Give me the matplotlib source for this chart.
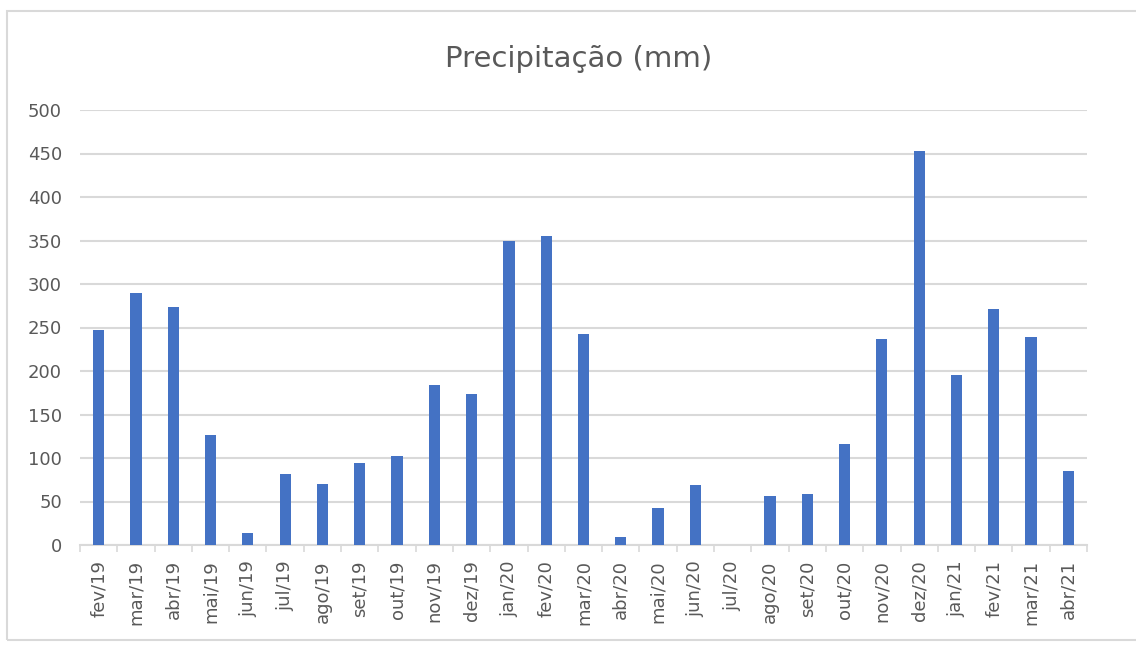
import matplotlib
matplotlib.use("Agg")
import matplotlib.pyplot as plt
from matplotlib.patches import Rectangle
import numpy as np

months = ["fev/19", "mar/19", "abr/19", "mai/19", "jun/19", "jul/19", "ago/19",
          "set/19", "out/19", "nov/19", "dez/19", "jan/20", "fev/20", "mar/20",
          "abr/20", "mai/20", "jun/20", "jul/20", "ago/20", "set/20", "out/20",
          "nov/20", "dez/20", "jan/21", "fev/21", "mar/21", "abr/21"]
precip = [247, 290, 274, 126, 14, 82, 70, 94, 102, 184, 173, 349, 355, 243,
          9, 43, 69, 0, 56, 59, 116, 237, 453, 195, 271, 239, 85]
yticks = [0, 50, 100, 150, 200, 250, 300, 350, 400, 450, 500]
title = "Precipitação (mm)"

plt.rcParams['font.family'] = ['DejaVu Sans']
W, H = 1136, 646
fig = plt.figure(figsize=(W / 100, H / 100), dpi=100)
fig.patch.set_facecolor("white")

# outer chart border
fig.patches.append(Rectangle((7 / W, 1 - 640 / H), (W + 10 - 7) / W, (640 - 11) / H,
                             transform=fig.transFigure, fill=False,
                             edgecolor="#d9d9d9", linewidth=1.5, zorder=0))

ax = fig.add_axes([80 / W, 1 - 545 / H, (1087 - 80) / W, (545 - 110) / H])
x = np.arange(len(months))
ax.bar(x, precip, width=0.3, color="#4472C4", zorder=3)

ax.set_xlim(-0.5, len(months) - 0.5)
ax.set_ylim(0, 500)
ax.set_yticks(yticks)
ax.set_xticks(x)
ax.set_xticklabels(months, rotation=90)
ax.set_xticks(np.arange(-0.5, len(months), 1.0), minor=True)

ax.grid(axis="y", color="#d9d9d9", linewidth=1.5, zorder=0)
for s in ["top", "right", "left"]:
    ax.spines[s].set_visible(False)
ax.spines["bottom"].set_color("#d9d9d9")
ax.spines["bottom"].set_linewidth(1.5)

ax.tick_params(axis="y", length=0, pad=13, labelsize=13, labelcolor="#595959")
ax.tick_params(axis="x", which="major", length=0, pad=11, labelsize=13, labelcolor="#595959")
ax.tick_params(axis="x", which="minor", length=5, color="#d9d9d9", width=1.2)

fig.text(579 / W, 1 - 59 / H, title, ha="center", va="center",
         fontsize=21, color="#595959")

fig.savefig("out.png", dpi=100, facecolor="white")
